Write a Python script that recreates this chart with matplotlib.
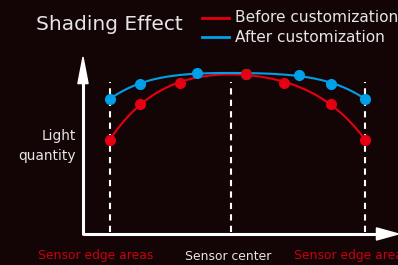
import numpy as np
import matplotlib
matplotlib.use("Agg")
import matplotlib.pyplot as plt

# sensor position (-1 = left edge, 0 = centre, 1 = right edge) and light quantity
before_x = [-1.0, -0.765, -0.45, 0.07, 0.365, 0.733, 1.0]
before_y = [59, 81, 94.5, 100, 94.5, 81, 59]
after_x = [-1.0, -0.765, -0.32, 0.07, 0.48, 0.733, 1.0]
after_y = [84.5, 94, 100.5, 100, 99.5, 94, 84.5]
guide_x = [-1.0, -0.05, 1.0]
bottom_labels = ["Sensor edge areas", "Sensor center", "Sensor edge areas"]

bg = "#130405"
red = "#e50012"
blue = "#00a0e9"
dark_red = "#c9000e"
txt = "#e6e6e6"
font = "DejaVu Sans"

fig = plt.figure(figsize=(3.98, 2.65), dpi=100, facecolor=bg)
ax = fig.add_axes([0, 0, 1, 1])
ax.set_facecolor(bg)
ax.set_xlim(-1.863, 1.259)
ax.set_ylim(-19.4, 146.25)
ax.axis("off")

# dashed guides
for gx in guide_x:
    ax.plot([gx, gx], [1.5, 95], color="white", lw=1.5, ls=(0, (3, 2.5)), zorder=1)

# smooth curves through the points
for xs, ys, c in [(before_x, before_y, red), (after_x, after_y, blue)]:
    p = np.polyfit(xs, ys, 4)
    xx = np.linspace(min(xs), max(xs), 200)
    ax.plot(xx, np.polyval(p, xx), color=c, lw=1.5, zorder=2)
ax.plot(after_x, after_y, "o", color=blue, ms=7, zorder=3)
ax.plot(before_x, before_y, "o", color=red, ms=7, zorder=4)

# axes arrows
ax_x0 = -1.212
ax.plot([ax_x0, 1.12], [0, 0], color="white", lw=2.2, solid_capstyle="butt", zorder=5)
ax.plot([ax_x0, ax_x0], [-0.8, 95], color="white", lw=2.2, solid_capstyle="butt", zorder=5)
ax.fill([ax_x0 - 0.04, ax_x0 + 0.04, ax_x0], [94, 94, 110.6], color="white", zorder=5)
ax.fill([1.09, 1.09, 1.262], [-3.8, 3.8, 0], color="white", zorder=5)

fig.text(36 / 398, 1 - 25 / 265, "Shading Effect", color=txt, fontsize=14.5,
         family=font, va="center", ha="left")

# legend
for ly, c, lab in [(18, red, "Before customization"), (37, blue, "After customization")]:
    fig.lines.append(plt.Line2D([202 / 398, 229 / 398], [1 - ly / 265] * 2, color=c, lw=2,
                                transform=fig.transFigure))
    fig.text(235 / 398, 1 - ly / 265, lab, color=txt, fontsize=11.1,
             family=font, va="center", ha="left")

fig.text(76 / 398, 1 - 146 / 265, "Light\nquantity", color=txt, fontsize=9.9,
         family=font, va="center", ha="right", linespacing=1.5)

for bx, lab, c in zip([96, 228, 352], bottom_labels, [dark_red, txt, dark_red]):
    fig.text(bx / 398, 1 - 256 / 265, lab, color=c, fontsize=8.9,
             family=font, va="center", ha="center")

fig.savefig("out.png", dpi=100, facecolor=bg)
